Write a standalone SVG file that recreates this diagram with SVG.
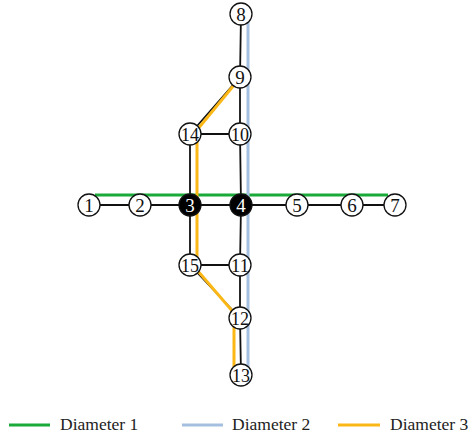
<svg xmlns="http://www.w3.org/2000/svg" width="471" height="436" viewBox="0 0 471 436">
<style>
.e{stroke:#111;stroke-width:1.8;fill:none}
.d1{stroke:#1aaa3a;stroke-width:3;fill:none}
.d2{stroke:#a4bfe0;stroke-width:3;fill:none}
.d3{stroke:#fbb716;stroke-width:3;fill:none}
.n circle{fill:#fff;stroke:#111;stroke-width:1.3}
.n text{font-family:"Liberation Serif",serif;font-size:19px;text-anchor:middle;fill:#111}
.b circle{fill:#000}
.b text{fill:#fff}
.lg{font-family:"Liberation Serif",serif;font-size:17.5px;fill:#222}
</style>
<rect width="471" height="436" fill="#fff"/>
<g id="connectors">
<path class="e" d="M241 14L240 77M240 77L190 134M240 77L240 134M190 134L240 134M190 134L190 205M240 134L241 205M89 205L395 205M190 205L190 265M241 205L240 265M190 265L240 265M190 265L240 318M240 265L240 318M240 318L241 375"/>
<path class="d1" d="M95 195L388 195"/>
<path class="d2" d="M248 22L248 367"/>
<path class="d3" d="M234 85L197 130L197 270L234 313L234 367"/>
</g>
<g id="n8" class="n"><circle cx="241" cy="14" r="11"/><text x="241" y="20.5">8</text></g>
<g id="n9" class="n"><circle cx="240" cy="77" r="11"/><text x="240" y="83.5">9</text></g>
<g id="n14" class="n"><circle cx="190" cy="134" r="11"/><text x="190" y="140.5" textLength="18" lengthAdjust="spacingAndGlyphs">14</text></g>
<g id="n10" class="n"><circle cx="240" cy="134" r="11"/><text x="240" y="140.5" textLength="18" lengthAdjust="spacingAndGlyphs">10</text></g>
<g id="n1" class="n"><circle cx="89" cy="205" r="11"/><text x="89" y="211.5">1</text></g>
<g id="n2" class="n"><circle cx="140" cy="205" r="11"/><text x="140" y="211.5">2</text></g>
<g id="n3" class="n b"><circle cx="190" cy="205" r="11"/><text x="190" y="211.5">3</text></g>
<g id="n4" class="n b"><circle cx="241" cy="205" r="11"/><text x="241" y="211.5">4</text></g>
<g id="n5" class="n"><circle cx="297" cy="205" r="11"/><text x="297" y="211.5">5</text></g>
<g id="n6" class="n"><circle cx="352" cy="205" r="11"/><text x="352" y="211.5">6</text></g>
<g id="n7" class="n"><circle cx="395" cy="205" r="11"/><text x="395" y="211.5">7</text></g>
<g id="n15" class="n"><circle cx="190" cy="265" r="11"/><text x="190" y="271.5" textLength="18" lengthAdjust="spacingAndGlyphs">15</text></g>
<g id="n11" class="n"><circle cx="240" cy="265" r="11"/><text x="240" y="271.5" textLength="18" lengthAdjust="spacingAndGlyphs">11</text></g>
<g id="n12" class="n"><circle cx="240" cy="318" r="11"/><text x="240" y="324.5" textLength="18" lengthAdjust="spacingAndGlyphs">12</text></g>
<g id="n13" class="n"><circle cx="241" cy="375" r="11"/><text x="241" y="381.5" textLength="18" lengthAdjust="spacingAndGlyphs">13</text></g>
<g id="legend">
<path class="d1" d="M9 425L50 425"/>
<text class="lg" x="60" y="430">Diameter 1</text>
<path class="d2" d="M182 425L223 425"/>
<text class="lg" x="232" y="430">Diameter 2</text>
<path class="d3" d="M338 425L380 425"/>
<text class="lg" x="390" y="430">Diameter 3</text>
</g>
</svg>
